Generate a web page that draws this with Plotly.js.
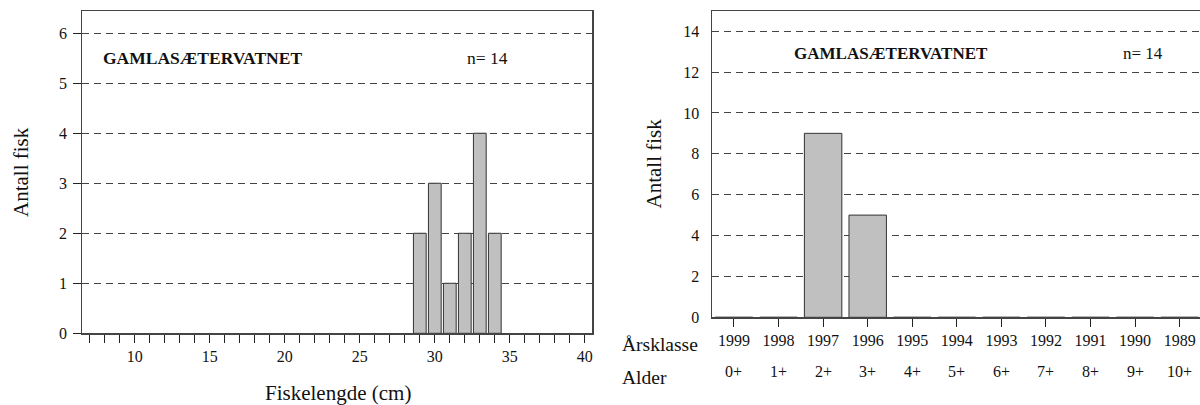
<!DOCTYPE html>
<html>
<head>
<meta charset="utf-8">
<script src="https://cdn.plot.ly/plotly-3.0.1.min.js"></script>
<style>html,body{margin:0;padding:0;background:#fff;}#chart{width:1200px;height:405px;}</style>
</head>
<body>
<div id="chart"></div>
<script>
// Left chart: length distribution
const lengthCm = [29, 30, 31, 32, 33, 34];
const lengthCount = [2, 3, 1, 2, 4, 2];
// Right chart: age distribution
const yearClasses = ['1999','1998','1997','1996','1995','1994','1993','1992','1991','1990','1989'];
const ageLabels = ['0+','1+','2+','3+','4+','5+','6+','7+','8+','9+','10+'];
const ageCount = [0, 0, 9, 5, 0, 0, 0, 0, 0, 0, 0];
const lakeName = 'GAMLASÆTERVATNET';
const nText = 'n= 14';

const FONT = 'Liberation Serif, Times New Roman, serif';
const H = 405, W = 1200;
const py = p => 1 - p / H;
const px = p => p / W;

const ageIdx = yearClasses.map((_, i) => i);

const traces = [
  {type: 'bar', x: lengthCm, y: lengthCount, xaxis: 'x', yaxis: 'y', width: 0.85,
   marker: {color: '#c0c0c0', line: {color: '#333', width: 1}}, hoverinfo: 'skip'},
  {type: 'bar', x: ageIdx, y: ageCount, xaxis: 'x2', yaxis: 'y2', width: 0.84,
   marker: {color: '#c0c0c0', line: {color: '#333', width: 1}}, hoverinfo: 'skip'}
];

const gridStyle = {showgrid: true, gridcolor: '#444', gridwidth: 1, griddash: '7px,5px'};
const tickFont = {family: FONT, size: 16, color: '#111'};

function ann(text, x, y, size, opts) {
  return Object.assign({text: text, x: px(x), y: py(y), xref: 'paper', yref: 'paper',
    xanchor: 'center', yanchor: 'middle', showarrow: false,
    font: {family: FONT, size: size, color: '#111'}}, opts || {});
}

const annotations = [
  ann('Antall fisk', 21, 172, 21, {textangle: -90}),
  ann('Fiskelengde (cm)', 337.5, 393, 21),
  ann('<b>' + lakeName + '</b>', 100.8, 58.5, 17.5, {xanchor: 'left'}),
  ann(nText, 464.6, 58.5, 17.5, {xanchor: 'left'}),
  ann('Antall fisk', 653.5, 164, 21, {textangle: -90}),
  ann('<b>' + lakeName + '</b>', 792.3, 53, 17, {xanchor: 'left'}),
  ann(nText, 1120.6, 53, 17, {xanchor: 'left'}),
  ann('Årsklasse', 620, 344, 19.5, {xanchor: 'left'}),
  ann('Alder', 620, 377, 19.5, {xanchor: 'left'})
];
ageLabels.forEach((lab, i) => {
  annotations.push({text: lab, x: i, xref: 'x2', y: py(371), yref: 'paper',
    xanchor: 'center', yanchor: 'middle', showarrow: false, font: tickFont});
});

const layout = {
  width: W, height: H,
  margin: {l: 0, r: 0, t: 0, b: 0},
  paper_bgcolor: '#fff', plot_bgcolor: '#fff',
  showlegend: false,
  font: {family: FONT, color: '#111'},
  xaxis: {domain: [px(82.3), px(592.3)], range: [6.5, 40.5], tick0: 0, dtick: 5,
          ticks: 'outside', ticklen: 8, tickcolor: '#222', tickwidth: 1,
          minor: {dtick: 1, tick0: 0, ticks: 'outside', ticklen: 8, tickcolor: '#222', tickwidth: 1, showgrid: false},
          showline: true, linecolor: '#444', linewidth: 1.2, mirror: true,
          showgrid: false, zeroline: false, tickfont: tickFont, fixedrange: true},
  yaxis: Object.assign({domain: [py(333.3), py(10.7)], range: [0, 6.45], dtick: 1, tick0: 0,
          ticks: 'outside', ticklen: 8, tickcolor: '#222', tickwidth: 1, ticklabelstandoff: 3,
          showline: true, linecolor: '#444', linewidth: 1.2, mirror: true,
          zeroline: false, tickfont: tickFont, fixedrange: true}, gridStyle),
  xaxis2: {anchor: 'y2', domain: [px(711.7), 1], range: [-0.5, 10.456],
           tickvals: ageIdx, ticktext: yearClasses,
           ticks: 'outside', ticklen: 8, tickcolor: '#222', tickwidth: 1,
           showline: true, linecolor: '#444', linewidth: 1.2, mirror: true,
           showgrid: false, zeroline: false, tickfont: tickFont, fixedrange: true},
  yaxis2: Object.assign({anchor: 'x2', domain: [py(317.3), py(10.7)], range: [0, 15], dtick: 2, tick0: 0,
           ticks: '', ticklabelstandoff: 8, showline: true, linecolor: '#444', linewidth: 1.2, mirror: false,
           zeroline: false, tickfont: tickFont, fixedrange: true}, gridStyle),
  annotations: annotations
};

Plotly.newPlot('chart', traces, layout, {displayModeBar: false, staticPlot: true});
</script>
</body>
</html>
